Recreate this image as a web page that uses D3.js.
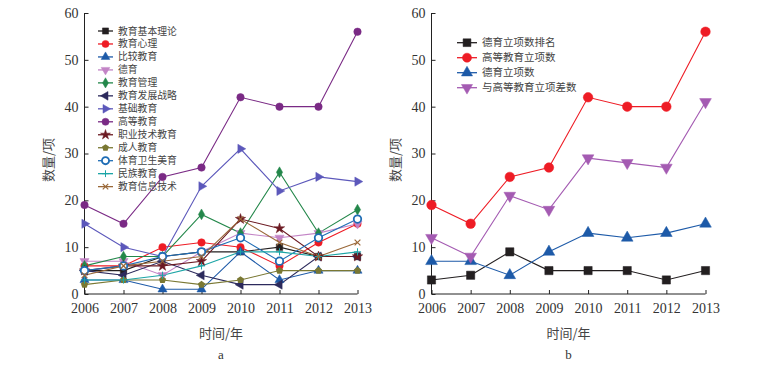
<!DOCTYPE html>
<html>
<head>
<meta charset="utf-8">
<style>
  body { margin: 0; background: #fff; }
  svg { display: block; }
  .tick text { font-family: 'Liberation Serif', serif; font-size: 14px; fill: #333; }
  .axis path, .axis line { stroke: #222; }
  .cn { font-family: 'Noto Sans CJK SC', sans-serif; fill: #444; }
</style>
</head>
<body>
<svg width="779" height="369"></svg>
<script src="https://d3js.org/d3.v7.min.js"></script>
<script>
const years = [2006, 2007, 2008, 2009, 2010, 2011, 2012, 2013];
const yTicks = [0, 10, 20, 30, 40, 50, 60];

// panel a
const namesA = ['教育基本理论', '教育心理', '比较教育', '德育', '教育管理', '教育发展战略', '基础教育',
  '高等教育', '职业技术教育', '成人教育', '体育卫生美育', '民族教育', '教育信息技术'];
const jbll = [5, 5, 8, 9, 9, 10, 8, 8];
const jyxl = [6, 6, 10, 11, 10, 6, 11, 15];
const bjjy = [3, 3, 1, 1, 9, 3, 5, 5];
const deyu = [7, 7, 4, 9, 13, 12, 13, 15];
const jygl = [6, 8, 8, 17, 13, 26, 13, 18];
const fzzl = [5, 4, 7, 4, 2, 2, 8, 8];
const jcjy = [15, 10, 8, 23, 31, 22, 25, 24];
const gdjy = [19, 15, 25, 27, 42, 40, 40, 56];
const zyjs = [5, 6, 6, 7, 16, 14, 8, 8];
const crjy = [2, 3, 3, 2, 3, 5, 5, 5];
const tyws = [5, 6, 8, 9, 12, 7, 12, 16];
const mzjy = [3, 3, 4, 6, 9, 9, 8, 9];
const xxjs = [4, 6, 7, 8, 16, 11, 8, 11];

// panel b
const namesB = ['德育立项数排名', '高等教育立项数', '德育立项数', '与高等教育立项差数'];
const rank = [3, 4, 9, 5, 5, 5, 3, 5];
const gdCount = [19, 15, 25, 27, 42, 40, 40, 56];
const dyCount = [7, 7, 4, 9, 13, 12, 13, 15];
const diff = [12, 8, 21, 18, 29, 28, 27, 41];

const seriesA = [
  { name: namesA[0], v: jbll, c: '#231f20', m: 'square' },
  { name: namesA[1], v: jyxl, c: '#ee1c25', m: 'circle' },
  { name: namesA[2], v: bjjy, c: '#1d5aa8', m: 'up' },
  { name: namesA[3], v: deyu, c: '#c384c6', m: 'down' },
  { name: namesA[4], v: jygl, c: '#23874a', m: 'diamond' },
  { name: namesA[5], v: fzzl, c: '#2c2a5c', m: 'left' },
  { name: namesA[6], v: jcjy, c: '#5c58bb', m: 'right' },
  { name: namesA[7], v: gdjy, c: '#7a2a85', m: 'circle' },
  { name: namesA[8], v: zyjs, c: '#6c1a22', m: 'star' },
  { name: namesA[9], v: crjy, c: '#7a7833', m: 'pentagon' },
  { name: namesA[10], v: tyws, c: '#1f6db5', m: 'open' },
  { name: namesA[11], v: mzjy, c: '#1ca5a6', m: 'plus' },
  { name: namesA[12], v: xxjs, c: '#9a6838', m: 'x' }
];
const seriesB = [
  { name: namesB[0], v: rank, c: '#231f20', m: 'square' },
  { name: namesB[1], v: gdCount, c: '#ee1c25', m: 'circle' },
  { name: namesB[2], v: dyCount, c: '#1d5aa8', m: 'up' },
  { name: namesB[3], v: diff, c: '#a45bb2', m: 'down' }
];

const svg = d3.select('svg');

function pentagon(r) {
  let pts = d3.range(5).map(i => {
    let a = -Math.PI / 2 + i * 2 * Math.PI / 5;
    return [r * Math.cos(a), r * Math.sin(a)];
  });
  return 'M' + pts.join('L') + 'Z';
}

function marker(g, type, x, y, s, color) {
  let sym = null, rot = 0;
  if (type == 'square') sym = d3.symbol(d3.symbolSquare, s * s * 3.2);
  if (type == 'circle' || type == 'open') sym = d3.symbol(d3.symbolCircle, s * s * 3.4);
  if (type == 'diamond') sym = d3.symbol(d3.symbolDiamond, s * s * 2.6);
  if (type == 'star') sym = d3.symbol(d3.symbolStar, s * s * 2.6);
  if (['up', 'down', 'left', 'right'].includes(type)) {
    sym = d3.symbol(d3.symbolTriangle, s * s * 2.8);
    rot = { up: 0, down: 180, left: -90, right: 90 }[type];
  }
  if (sym) {
    g.append('path')
      .attr('d', sym)
      .attr('transform', `translate(${x},${y}) rotate(${rot})`)
      .attr('fill', type == 'open' ? '#fff' : color)
      .attr('stroke', color)
      .attr('stroke-width', type == 'open' ? 1.8 : 0.5);
  } else if (type == 'pentagon') {
    g.append('path').attr('d', pentagon(s * 1.05))
      .attr('transform', `translate(${x},${y})`)
      .attr('fill', color);
  } else if (type == 'plus') {
    g.append('path').attr('d', `M${-s},0H${s}M0,${-s}V${s}`)
      .attr('transform', `translate(${x},${y})`)
      .attr('stroke', color).attr('stroke-width', 1);
  } else if (type == 'x') {
    let k = s * 0.8;
    g.append('path').attr('d', `M${-k},${-k}L${k},${k}M${-k},${k}L${k},${-k}`)
      .attr('transform', `translate(${x},${y})`)
      .attr('stroke', color).attr('stroke-width', 1.2);
  }
}

function panel(x0, x1, series, size, legend, letter) {
  let x = d3.scaleLinear().domain([2006, 2013]).range([x0, x1]);
  let y = d3.scaleLinear().domain([0, 60]).range([294, 13]);
  let g = svg.append('g');

  g.append('g').attr('class', 'axis')
    .attr('transform', 'translate(0,294)')
    .call(d3.axisBottom(x).tickValues(years).tickFormat(d3.format('d')).tickSize(-4).tickPadding(9))
    .call(a => a.select('.domain').attr('d', `M${x0},0H${x1}`));

  g.append('g').attr('class', 'axis')
    .attr('transform', `translate(${x0},0)`)
    .call(d3.axisLeft(y).tickValues(yTicks).tickSize(-4).tickPadding(6))
    .call(a => a.select('.domain').attr('d', 'M0,13V294'));

  let line = d3.line().x((d, i) => x(years[i])).y(d => y(d));
  series.forEach(s => {
    g.append('path').attr('d', line(s.v))
      .attr('fill', 'none').attr('stroke', s.c).attr('stroke-width', 1.1);
  });
  series.forEach(s => {
    s.v.forEach((v, i) => marker(g, s.m, x(years[i]), y(v), size, s.c));
  });

  // legend
  let lg = g.append('g');
  series.forEach((s, i) => {
    let ly = legend.y + i * legend.dy;
    lg.append('line')
      .attr('x1', legend.x).attr('x2', legend.x + legend.w)
      .attr('y1', ly).attr('y2', ly)
      .attr('stroke', s.c).attr('stroke-width', 1.3);
    marker(lg, s.m, legend.x + legend.w / 2, ly, size * 0.95, s.c);
    lg.append('text').attr('class', 'cn')
      .attr('x', legend.x + legend.w + 5).attr('y', ly)
      .attr('dy', '0.36em')
      .attr('font-size', legend.fs)
      .text(s.name);
  });

  // axis titles
  let cx = (x0 + x1) / 2;
  g.append('text').attr('class', 'cn')
    .attr('transform', `translate(${x0 - 36},160) rotate(-90)`)
    .attr('text-anchor', 'middle').attr('dy', '0.35em')
    .attr('font-size', 13)
    .text('数量/项');
  g.append('text').attr('class', 'cn')
    .attr('x', cx).attr('y', 333).attr('dy', '0.35em')
    .attr('text-anchor', 'middle').attr('font-size', 13)
    .text('时间/年');
  g.append('text')
    .attr('x', cx).attr('y', 354).attr('dy', '0.35em')
    .attr('text-anchor', 'middle')
    .attr('font-family', 'Liberation Serif, serif')
    .attr('font-size', 13).attr('fill', '#333')
    .text(letter);
}

panel(84.5, 357.5, seriesA, 3.6, { x: 98, y: 31, dy: 12.97, w: 15, fs: 9.8 }, 'a');
panel(431.5, 705.5, seriesB, 4.6, { x: 457, y: 42.7, dy: 15, w: 20, fs: 10.5 }, 'b');
</script>
</body>
</html>
